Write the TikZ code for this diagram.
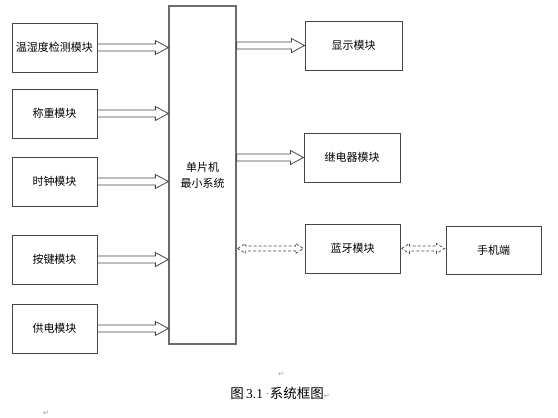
\documentclass[tikz,border=0pt]{standalone}
\usepackage{fontspec}
\setmainfont{Liberation Serif}
\newfontfamily\cjk{Noto Sans CJK SC}
\newfontfamily\symb{DejaVu Sans}
\usepackage{tikz}
\usetikzlibrary{calc}
\definecolor{edge}{RGB}{70,70,70}
\definecolor{mark}{RGB}{150,150,150}

\begin{document}
\begin{tikzpicture}[x=1pt,y=-1pt,
  module/.style={draw=edge,line width=1pt,minimum width=85pt,minimum height=49pt,
                 inner sep=0pt,align=center,font=\cjk\fontsize{11}{13}\selectfont},
  mcu/.style={draw=edge!80,line width=1.3pt,minimum width=67pt,minimum height=338pt,
              inner sep=0pt,align=center,font=\cjk\fontsize{11}{16}\selectfont},
  bus/.style={draw=edge,line width=0.8pt,to path={let \p1=(\tikztostart),\p2=(\tikztotarget) in
      (\x1,\y1+3.5pt)--(\x2-13pt,\y1+3.5pt)--(\x2-13pt,\y1+7pt)--(\x2,\y1)
      --(\x2-13pt,\y1-7pt)--(\x2-13pt,\y1-3.5pt)--(\x1,\y1-3.5pt)--cycle}},
  link/.style={draw=edge,line width=0.7pt,dash pattern=on 3pt off 2pt,
      to path={let \p1=(\tikztostart),\p2=(\tikztotarget) in
      (\x1+1pt,\y1)--(\x1+9pt,\y1+5pt)--(\x1+9pt,\y1+2.5pt)--(\x2-9pt,\y1+2.5pt)
      --(\x2-9pt,\y1+5pt)--(\x2-1pt,\y1)--(\x2-9pt,\y1-5pt)--(\x2-9pt,\y1-2.5pt)
      --(\x1+9pt,\y1-2.5pt)--(\x1+9pt,\y1-5pt)--cycle}},
  pmark/.style={text=mark,font=\symb\fontsize{7}{8}\selectfont,inner sep=0pt}
]
\useasboundingbox (0,0) rectangle (558,418);

% input modules
\node[module] (th)  at (54.5,47.5)  {温湿度检测模块};
\node[module] (wt)  at (54.5,113.5) {称重模块};
\node[module] (clk) at (54.5,181.5) {时钟模块};
\node[module] (key) at (54.5,259.5) {按键模块};
\node[module] (pwr) at (54.5,328.5) {供电模块};

% controller
\node[mcu] (mcu) at (202.5,175) {单片机\\最小系统};

% output modules
\node[module,minimum width=97pt] (disp)  at (353.5,45.5)  {显示模块};
\node[module,minimum width=96pt] (relay) at (352,157.5)   {继电器模块};
\node[module,minimum width=95pt] (bt)    at (352.5,248.5) {蓝牙模块};
\node[module,minimum width=95pt,minimum height=48pt] (phone) at (493.5,250) {手机端};

\draw[bus] (th.east)  to (mcu.west |- th.east);
\draw[bus] (wt.east)  to (mcu.west |- wt.east);
\draw[bus] (clk.east) to (mcu.west |- clk.east);
\draw[bus] (key.east) to (mcu.west |- key.east);
\draw[bus] (pwr.east) to (mcu.west |- pwr.east);
\draw[bus] (mcu.east |- disp.west)  to (disp.west);
\draw[bus] (mcu.east |- relay.west) to (relay.west);
\draw[link] (mcu.east |- bt.west) to (bt.west);
\draw[link] (bt.east) to (phone.west |- bt.east);

% caption
\node[inner sep=0pt,font=\fontsize{13.5}{15}\selectfont] (cap) at (280,393)
  {{\cjk 图}\,3.1{\color{mark}\,·}{\cjk 系统框图}{\symb\color{mark}\fontsize{7}{8}\selectfont↵}};
\node[pmark] (p1) at (281,374) {↵};
\node[pmark] (p2) at (46,413)  {↵};
\end{tikzpicture}
\end{document}
